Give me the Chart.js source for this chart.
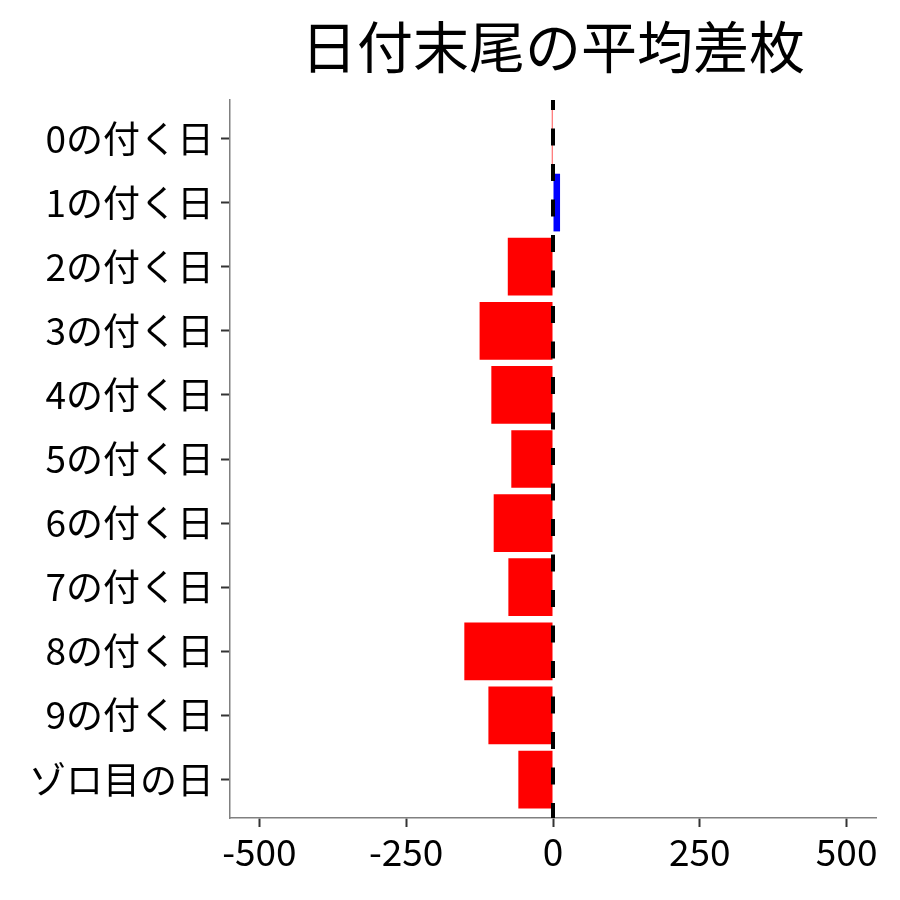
<!DOCTYPE html>
<html>
<head>
<meta charset="utf-8">
<script src="https://cdn.jsdelivr.net/npm/chart.js@4"></script>
<style>
  html, body { margin: 0; padding: 0; background: #fff; }
  #wrap { width: 900px; height: 900px; }
</style>
</head>
<body>
<div id="wrap"><canvas id="barChart"></canvas></div>
<script>
const categories = ['0の付く日', '1の付く日', '2の付く日', '3の付く日', '4の付く日', '5の付く日',
                    '6の付く日', '7の付く日', '8の付く日', '9の付く日', 'ゾロ目の日'];
const diffValues = [-2, 12, -77, -125, -105, -71, -101, -76, -151, -110, -59];
const xTicks = [-500, -250, 0, 250, 500];

const FONT = '"Noto Sans CJK JP", "Noto Sans", sans-serif';

// dashed reference line at zero, drawn over the bars
const zeroLine = {
    id: 'zeroLine',
    afterDatasetsDraw(chart) {
        const ctx = chart.ctx;
        const area = chart.chartArea;
        const x = chart.scales.x.getPixelForValue(0);
        ctx.save();
        ctx.beginPath();
        ctx.rect(area.left, area.top, area.right - area.left, area.bottom - area.top);
        ctx.clip();
        ctx.strokeStyle = '#000';
        ctx.lineWidth = 4;
        ctx.setLineDash([17, 18.5]);
        ctx.beginPath();
        ctx.moveTo(x, area.bottom + 2);
        ctx.lineTo(x, area.top);
        ctx.stroke();
        ctx.restore();
    }
};

const ctx = document.getElementById('barChart').getContext('2d');
const barChart = new Chart(ctx, {
    type: 'bar',
    data: {
        datasets: [{
            data: diffValues.map((v, i) => ({ x: v, y: i })),
            backgroundColor: diffValues.map(v => v < 0 ? '#ff0000' : '#0000ff'),
            borderWidth: 0,
            categoryPercentage: 1,
            barPercentage: 0.9
        }]
    },
    options: {
        indexAxis: 'y',
        responsive: true,
        maintainAspectRatio: false,
        animation: false,
        layout: { padding: { left: 0, right: 24, top: 0, bottom: 0 } },
        plugins: {
            legend: { display: false },
            tooltip: { enabled: false },
            title: {
                display: true,
                text: '日付末尾の平均差枚',
                fullSize: false,
                color: '#000',
                font: { family: FONT, size: 56, weight: 'normal', lineHeight: 1.2 },
                padding: { top: 13, bottom: 19.8 }
            }
        },
        scales: {
            x: {
                type: 'linear',
                min: -550,
                max: 550,
                afterBuildTicks: s => { s.ticks = xTicks.map(v => ({ value: v })); },
                afterFit: s => { s.height = 82; },
                border: { display: true, color: '#808080', width: 1.5 },
                grid: { drawOnChartArea: false, drawTicks: true, tickLength: 9, tickColor: '#333', tickWidth: 2 },
                ticks: {
                    color: '#000',
                    padding: 3,
                    maxRotation: 0,
                    font: { family: FONT, size: 37 }
                }
            },
            y: {
                type: 'linear',
                min: -0.6,
                max: 10.6,
                reverse: true,
                offset: false,
                afterBuildTicks: s => { s.ticks = categories.map((c, i) => ({ value: i })); },
                afterFit: s => { s.width = 230; },
                border: { display: true, color: '#808080', width: 1.5 },
                grid: { offset: false, drawOnChartArea: false, drawTicks: true, tickLength: 9, tickColor: '#333', tickWidth: 2 },
                ticks: {
                    color: '#000',
                    padding: 7,
                    autoSkip: false,
                    callback: v => categories[v],
                    font: { family: FONT, size: 37 }
                }
            }
        }
    },
    plugins: [zeroLine]
});
</script>
</body>
</html>
